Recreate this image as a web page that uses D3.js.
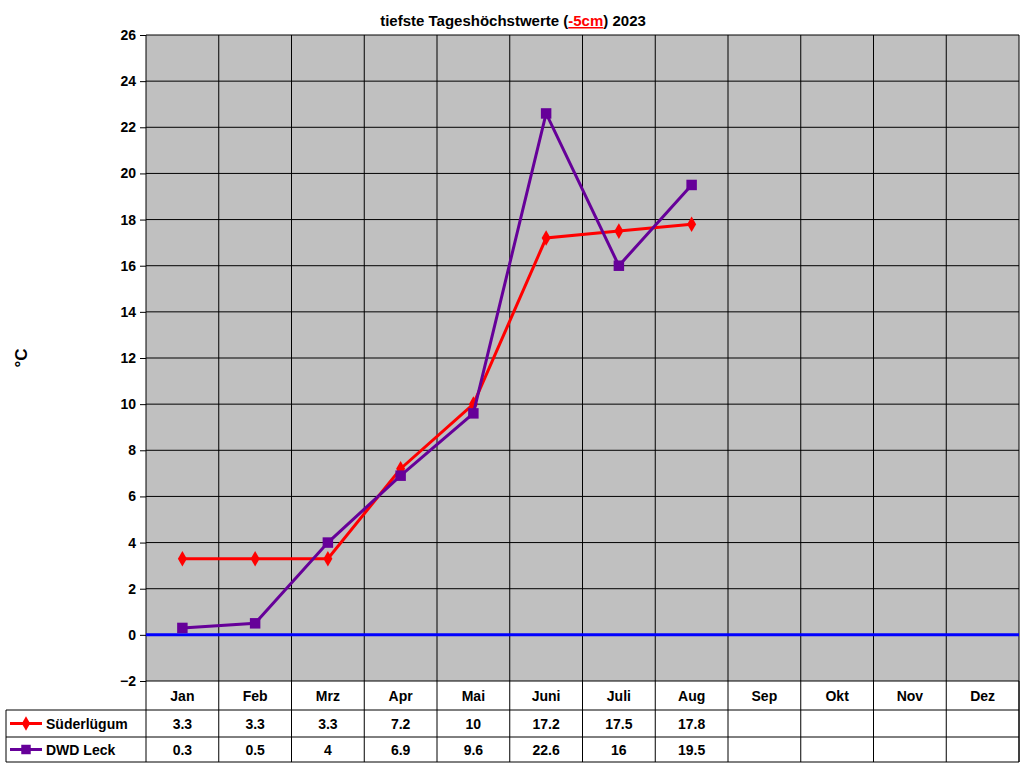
<!DOCTYPE html><html><head><meta charset="utf-8">
<script src="https://d3js.org/d3.v7.min.js"></script>
<style>body{margin:0;background:#fff}svg{font-family:Arial,"Liberation Sans",sans-serif;font-weight:bold}</style>
</head><body><svg id="c" width="1024" height="768"></svg>
<script>
const months=["Jan","Feb","Mrz","Apr","Mai","Juni","Juli","Aug","Sep","Okt","Nov","Dez"];
const suederluegum=[3.3,3.3,3.3,7.2,10,17.2,17.5,17.8];
const dwdLeck=[0.3,0.5,4,6.9,9.6,22.6,16,19.5];
const yTicks=d3.range(-2,27,2);
const series=[{name:"Süderlügum",values:suederluegum,color:"#ff0000",shape:"diamond"},{name:"DWD Leck",values:dwdLeck,color:"#660099",shape:"square"}];

const svg=d3.select("#c");
const L=146,R=1019,T=35,B=681;
const x=d3.scaleBand().domain(months).range([L,R]);
const y=d3.scaleLinear().domain([-2,26]).range([B,T]);
svg.append("rect").attr("x",L).attr("y",T).attr("width",R-L).attr("height",B-T).attr("fill","#c0c0c0");
svg.append("g").selectAll("line").data(yTicks).join("line").attr("x1",L).attr("x2",R).attr("y1",d=>y(d)).attr("y2",d=>y(d)).attr("stroke","#000").attr("stroke-width",1);
svg.append("g").selectAll("line").data(d3.range(13)).join("line").attr("x1",i=>L+i*x.bandwidth()).attr("x2",i=>L+i*x.bandwidth()).attr("y1",T).attr("y2",762).attr("stroke","#000");
svg.append("line").attr("x1",L).attr("x2",R).attr("y1",y(0)).attr("y2",y(0)).attr("stroke","#0000ff").attr("stroke-width",3);
const ax=svg.append("g").attr("transform",`translate(${L},0)`).call(d3.axisLeft(y).tickValues(yTicks).tickSize(6).tickPadding(4));
ax.select(".domain").remove();
ax.selectAll("text").attr("font-size",14).attr("font-weight","bold").attr("font-family","Arial");
svg.append("text").attr("transform","translate(27,358) rotate(-90)").attr("text-anchor","middle").attr("font-size",17).text("°C");
const t=svg.append("text").attr("x",513).attr("y",26).attr("text-anchor","middle").attr("font-size",15);
t.append("tspan").text("tiefste Tageshöchstwerte (");
t.append("tspan").attr("fill","#ff0000").attr("text-decoration","underline").text("-5cm");
t.append("tspan").text(") 2023");
const line=d3.line().x((d,i)=>x(months[i])+x.bandwidth()/2).y(d=>y(d));
series.forEach(s=>{
  svg.append("path").attr("d",line(s.values)).attr("fill","none").attr("stroke",s.color).attr("stroke-width",3);
  const sym=d3.symbol().type(s.shape==="diamond"?d3.symbolDiamond:d3.symbolSquare).size(s.shape==="diamond"?70:110);
  svg.append("g").selectAll("path").data(s.values).join("path").attr("transform",(d,i)=>`translate(${x(months[i])+x.bandwidth()/2},${y(d)})`).attr("d",sym).attr("fill",s.color);
});
// table
svg.append("g").selectAll("text").data(months).join("text").attr("x",d=>x(d)+x.bandwidth()/2).attr("y",701).attr("text-anchor","middle").attr("font-size",14).text(d=>d);
const rows=[710,737,762];
rows.forEach(r=>svg.append("line").attr("x1",6).attr("x2",R).attr("y1",r).attr("y2",r).attr("stroke","#000"));
svg.append("line").attr("x1",6).attr("x2",6).attr("y1",710).attr("y2",762).attr("stroke","#000");
svg.append("line").attr("x1",R).attr("x2",R).attr("y1",681).attr("y2",762).attr("stroke","#000");
series.forEach((s,k)=>{
  const cy=(rows[k]+rows[k+1])/2;
  svg.append("line").attr("x1",10).attr("x2",42).attr("y1",cy).attr("y2",cy).attr("stroke",s.color).attr("stroke-width",3);
  svg.append("path").attr("transform",`translate(26,${cy})`).attr("d",d3.symbol().type(s.shape==="diamond"?d3.symbolDiamond:d3.symbolSquare).size(s.shape==="diamond"?60:90)).attr("fill",s.color);
  svg.append("text").attr("x",46).attr("y",cy+5).attr("font-size",14).text(s.name);
  svg.append("g").selectAll("text").data(s.values).join("text").attr("x",(d,i)=>x(months[i])+x.bandwidth()/2).attr("y",cy+5).attr("text-anchor","middle").attr("font-size",14).text(d=>d);
});
</script></body></html>
